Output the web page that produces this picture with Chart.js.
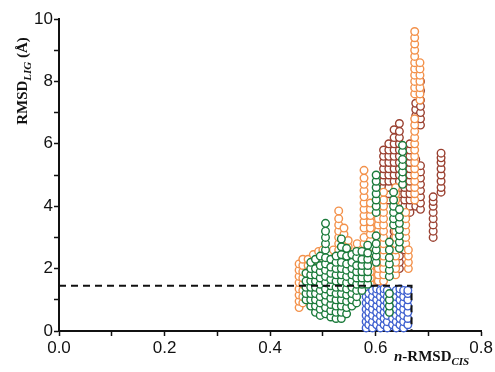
<!DOCTYPE html>
<html>
<head>
<meta charset="utf-8">
<script src="https://cdn.jsdelivr.net/npm/chart.js@4"></script>
<style>
  body { margin: 0; background: #fff; }
</style>
</head>
<body>
<canvas id="myChart" width="495" height="372"></canvas>
<script>
// columns of points: [x, [y values]]
const brownCols = [
    [0.615, [4.6, 4.8, 5.0, 5.2, 5.4, 5.6, 5.8]],
    [0.625, [4.2, 4.4, 4.6, 4.8, 5.0, 5.2, 5.4, 5.6, 5.8, 6.0]],
    [0.635, [2.4, 2.6, 2.8, 3.0, 3.2, 3.4, 3.6, 4.8, 5.0, 5.2, 5.4, 5.6, 5.8, 6.0, 6.2, 6.45]],
    [0.645, [2.0, 2.2, 2.4, 4.4, 4.6, 4.8, 5.0, 5.2, 5.4, 5.6, 5.8, 6.0, 6.2, 6.4, 6.65]],
    [0.655, [2.6, 2.8, 3.0, 3.2, 3.4, 3.6, 3.8, 4.0, 4.2, 4.4, 4.6, 4.8, 5.0, 5.2, 5.4, 5.6]],
    [0.665, [3.8, 4.0, 4.2, 4.4, 4.6, 4.8, 5.0, 5.2, 5.4, 5.6, 5.8, 6.0]],
    [0.676, [4.0, 4.2, 4.4, 4.6, 4.8, 5.0, 5.2, 5.5, 6.7, 6.9, 7.1, 7.3]],
    [0.685, [3.9, 4.1, 4.3, 4.5, 4.7, 4.9, 5.1, 5.3, 6.6, 6.8, 7.0, 7.2, 7.4, 7.7, 8.0]],
    [0.709, [3.0, 3.2, 3.4, 3.6, 3.8, 4.0, 4.15, 4.3]],
    [0.724, [4.45, 4.6, 4.8, 5.0, 5.2, 5.4, 5.55, 5.7]]
];

const orangeCols = [
    [0.455, [0.75, 0.95, 1.15, 1.35, 1.55, 1.75, 1.95, 2.15]],
    [0.462, [0.9, 1.1, 1.3, 1.5, 1.7, 1.9, 2.1, 2.3]],
    [0.472, [1.9, 2.1, 2.3]],
    [0.482, [2.0, 2.2, 2.45]],
    [0.492, [2.1, 2.3, 2.55]],
    [0.500, [2.2, 2.4, 2.6]],
    [0.510, [2.0, 2.2, 2.45]],
    [0.520, [2.1, 2.3, 2.6]],
    [0.530, [2.4, 2.6, 2.8, 3.0, 3.2, 3.4, 3.6, 3.85]],
    [0.540, [2.5, 2.7, 2.9, 3.1, 3.3]],
    [0.548, [2.3, 2.5, 2.7, 2.9]],
    [0.565, [2.2, 2.4, 2.6, 2.8]],
    [0.578, [1.6, 1.8, 2.0, 2.2, 2.4, 2.6, 2.8, 3.0, 3.3, 3.5, 3.7, 3.9, 4.1, 4.3, 4.5, 4.7, 4.9, 5.15]],
    [0.590, [1.3, 1.5, 1.7, 1.9, 2.1, 2.3, 2.5, 2.7, 2.9, 3.1, 3.3, 3.5, 3.7, 3.9, 4.1]],
    [0.605, [1.2, 1.4, 1.6, 1.8, 2.0, 2.2, 2.4, 2.6, 2.8, 3.0, 3.2, 3.4, 3.6]],
    [0.615, [1.4, 1.6, 1.8, 2.0, 2.2, 2.4, 2.6, 2.8, 3.0, 3.2, 3.4, 3.6, 3.8, 4.0, 4.2, 4.45]],
    [0.638, [1.8, 2.0, 2.2, 2.4, 2.6, 2.8, 3.0, 3.2, 3.4, 3.6, 3.8, 4.0, 4.2, 4.4, 4.6]],
    [0.657, [2.8, 3.0, 3.2, 3.4, 3.6, 3.8]],
    [0.662, [2.0, 2.2, 2.4, 2.6]],
    [0.674, [4.2, 4.4, 4.6, 4.8, 5.0, 5.2, 5.4, 5.6, 5.8, 6.0, 6.2, 6.4, 6.6, 6.8, 7.6, 7.8, 8.0, 8.2, 8.4, 8.6, 8.8, 9.0, 9.2, 9.4, 9.6]],
    [0.684, [7.4, 7.6, 7.8, 8.0, 8.2, 8.4, 8.6]]
];

const greenCols = [
    [0.468, [1.0, 1.2, 1.4, 1.6, 1.85]],
    [0.477, [0.8, 1.0, 1.2, 1.4, 1.6, 1.8, 2.0, 2.2]],
    [0.486, [0.6, 0.8, 1.0, 1.2, 1.4, 1.6, 1.8, 2.0, 2.3]],
    [0.495, [0.5, 0.7, 0.9, 1.1, 1.3, 1.5, 1.7, 1.9, 2.1, 2.4]],
    [0.505, [0.55, 0.75, 0.95, 1.15, 1.35, 1.55, 1.75, 1.95, 2.15, 2.35, 2.6, 2.8, 3.0, 3.2, 3.45]],
    [0.515, [0.45, 0.65, 0.85, 1.05, 1.25, 1.45, 1.65, 1.85, 2.05, 2.3]],
    [0.525, [0.4, 0.6, 0.8, 1.0, 1.2, 1.4, 1.6, 1.8, 2.0, 2.2, 2.4]],
    [0.535, [0.4, 0.6, 0.8, 1.0, 1.2, 1.4, 1.6, 1.8, 2.0, 2.2, 2.45, 2.7, 2.95]],
    [0.545, [0.55, 0.75, 0.95, 1.15, 1.35, 1.55, 1.75, 1.95, 2.15, 2.4, 2.65]],
    [0.555, [0.8, 1.0, 1.2, 1.4, 1.6, 1.8, 2.0, 2.2, 2.45]],
    [0.564, [0.9, 1.1, 1.3, 1.5, 1.7, 1.9, 2.1, 2.35, 2.55]],
    [0.574, [1.3, 1.5, 1.7, 1.9, 2.1, 2.3, 2.55]],
    [0.585, [1.5, 1.7, 1.9, 2.1, 2.3, 2.5, 2.75]],
    [0.601, [2.2, 2.4, 2.6, 2.8, 3.05, 3.8, 4.0, 4.2, 4.4, 4.6, 4.8, 5.0]],
    [0.626, [0.6, 0.8, 1.0, 1.2, 1.75, 1.95, 2.15, 2.35, 2.6, 2.85]],
    [0.634, [3.4, 3.6, 3.8, 4.0, 4.2, 4.45]],
    [0.645, [2.65, 2.85, 3.05, 3.25, 3.45, 3.65, 3.9]],
    [0.651, [4.7, 4.9, 5.1, 5.3, 5.5, 5.75, 5.95]]
];

const blueCols = [
    [0.582, [0.1, 0.3, 0.5, 0.7, 0.9, 1.1, 1.3]],
    [0.587, [0.2, 0.4, 0.6, 0.8, 1.0, 1.2]],
    [0.594, [0.1, 0.3, 0.5, 0.7, 0.9, 1.1, 1.3]],
    [0.602, [0.2, 0.4, 0.6, 0.8, 1.0, 1.2, 1.35]],
    [0.609, [0.1, 0.3, 0.5, 0.7, 0.9, 1.1, 1.3]],
    [0.616, [0.2, 0.4, 0.6, 0.8, 1.0, 1.2, 1.35]],
    [0.622, [0.1, 0.3, 0.5, 0.7, 0.9, 1.1, 1.3]],
    [0.632, [0.2, 0.4, 0.6, 0.8, 1.0, 1.2]],
    [0.639, [0.1, 0.3, 0.5, 0.7, 0.9, 1.1, 1.3]],
    [0.646, [0.2, 0.4, 0.6, 0.8, 1.0, 1.2, 1.35]],
    [0.653, [0.1, 0.3, 0.5, 0.7, 0.9, 1.1, 1.3]],
    [0.661, [0.2, 0.4, 0.6, 0.8, 1.0, 1.2, 1.3]]
];

// dashed cut-off line
const cutX = [0, 0.668, 0.668];
const cutY = [1.45, 1.45, 0];

function toPoints(cols) {
    const pts = [];
    cols.forEach(([x, ys]) => ys.forEach(y => pts.push({x: x, y: y})));
    return pts;
}

function circles(label, cols, color, order) {
    return {
        label: label,
        data: toPoints(cols),
        pointRadius: 3.8,
        pointBorderWidth: 1.4,
        pointBorderColor: color,
        pointBackgroundColor: '#fff',
        showLine: false,
        clip: false,
        order: order
    };
}

// axis titles with sub/italic parts
const axisTitles = {
    id: 'axisTitles',
    afterDraw(chart) {
        const ctx = chart.ctx;
        const serif = '"Liberation Serif", "Times New Roman", serif';
        const measure = (parts) => {
            let w = 0;
            parts.forEach(p => { ctx.font = p.font; p.w = ctx.measureText(p.t).width; w += p.w; });
            return w;
        };
        ctx.save();
        ctx.fillStyle = '#111';
        ctx.textBaseline = 'alphabetic';

        // y title
        const yParts = [
            {t: 'RMSD', font: 'bold 15px ' + serif, dy: 0},
            {t: 'LIG', font: 'italic bold 11px ' + serif, dy: 4},
            {t: ' (\u00c5)', font: 'bold 15px ' + serif, dy: 0}
        ];
        const yw = measure(yParts);
        ctx.translate(27, 81);
        ctx.rotate(-Math.PI / 2);
        let cx = -yw / 2;
        yParts.forEach(p => { ctx.font = p.font; ctx.fillText(p.t, cx, p.dy); cx += p.w; });
        ctx.restore();

        // x title
        ctx.save();
        ctx.fillStyle = '#111';
        const xParts = [
            {t: 'n', font: 'italic bold 15px ' + serif, dy: 0},
            {t: '-RMSD', font: 'bold 15px ' + serif, dy: 0},
            {t: 'CIS', font: 'italic bold 11px ' + serif, dy: 4}
        ];
        measure(xParts);
        let x0 = 394;
        xParts.forEach(p => { ctx.font = p.font; ctx.fillText(p.t, x0, 361 + p.dy); x0 += p.w; });
        ctx.restore();
    }
};

const tickFont = {family: '"Liberation Sans", Arial, sans-serif', size: 17};

const config = {
    type: 'scatter',
    data: {
        datasets: [
            {
                label: 'cut',
                data: cutX.map((x, i) => ({x: x, y: cutY[i]})),
                showLine: true,
                borderColor: '#111',
                borderWidth: 2,
                borderDash: [7, 5],
                pointRadius: 0,
                fill: false,
                clip: false,
                order: 0
            },
            circles('green', greenCols, '#1a7a3a', 1),
            circles('blue', blueCols, '#3d5fcf', 2),
            circles('orange', orangeCols, '#f3914a', 3),
            circles('brown', brownCols, '#9a4030', 4)
        ]
    },
    options: {
        responsive: false,
        animation: false,
        layout: {padding: {left: 0, right: 12, top: 19, bottom: 0}},
        plugins: {
            legend: {display: false},
            tooltip: {enabled: false}
        },
        scales: {
            x: {
                type: 'linear',
                min: 0,
                max: 0.8,
                afterFit: (s) => { s.height = 41; },
                ticks: {
                    stepSize: 0.1,
                    autoSkip: false,
                    maxRotation: 0,
                    padding: 2,
                    color: '#111',
                    font: tickFont,
                    callback: (v) => Math.round(v * 10) % 2 === 0 ? v.toFixed(1) : ''
                },
                grid: {drawOnChartArea: false, tickLength: 5, tickWidth: 1.5, color: '#111'},
                border: {display: true, color: '#111', width: 2}
            },
            y: {
                type: 'linear',
                min: 0,
                max: 10,
                afterFit: (s) => { s.width = 59; },
                ticks: {
                    stepSize: 1,
                    autoSkip: false,
                    padding: 1,
                    color: '#111',
                    font: tickFont,
                    callback: (v) => v % 2 === 0 ? String(v) : ''
                },
                grid: {drawOnChartArea: false, tickLength: 5, tickWidth: 1.5, color: '#111'},
                border: {display: true, color: '#111', width: 2}
            }
        }
    },
    plugins: [axisTitles]
};

const myChart = new Chart(document.getElementById('myChart'), config);
</script>
</body>
</html>
